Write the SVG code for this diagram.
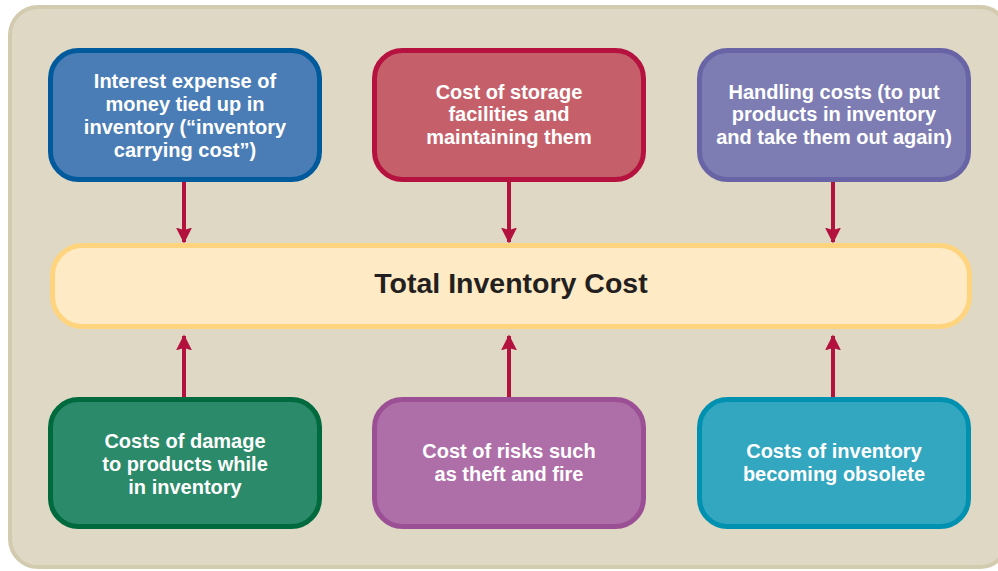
<svg xmlns="http://www.w3.org/2000/svg" width="998" height="571" viewBox="0 0 998 571">
<defs>
<marker id="ah" viewBox="0 0 10 10" refX="9" refY="5" markerWidth="4" markerHeight="4" orient="auto" markerUnits="strokeWidth">
<path d="M0,0 L10,5 L0,10 L1.5,5 Z" fill="#b3123f"/>
</marker>
</defs>
<style>
.t{font-family:"Liberation Sans",Arial,sans-serif;font-weight:bold;font-size:20px;fill:#ffffff;text-anchor:middle}
.c{stroke:#b3123f;stroke-width:4;fill:none;marker-end:url(#ah)}
.b{stroke-width:5}
</style>
<rect x="10" y="7" width="998" height="560" rx="28" fill="#dfd8c5" stroke="#d3cbb0" stroke-width="4"/>
<g id="connectors">
<line class="c" x1="184" y1="181" x2="184" y2="242"/>
<line class="c" x1="509" y1="181" x2="509" y2="242"/>
<line class="c" x1="833" y1="181" x2="833" y2="242"/>
<line class="c" x1="184" y1="397" x2="184" y2="336"/>
<line class="c" x1="509" y1="397" x2="509" y2="336"/>
<line class="c" x1="833" y1="397" x2="833" y2="336"/>
</g>
<g id="total">
<rect x="52.5" y="245.5" width="917" height="81" rx="30" fill="#feeac4" stroke="#fed47e" stroke-width="5"/>
<text x="511" y="293" font-family="Liberation Sans,Arial,sans-serif" font-weight="bold" font-size="28.5" fill="#231f20" text-anchor="middle">Total Inventory Cost</text>
</g>
<g id="interest">
<rect class="b" x="50.5" y="50.5" width="269" height="129" rx="28" fill="#4a7db5" stroke="#005a9c"/>
<text class="t" x="185" y="88">Interest expense of</text>
<text class="t" x="185" y="111">money tied up in</text>
<text class="t" x="185" y="134">inventory (“inventory</text>
<text class="t" x="185" y="157">carrying cost”)</text>
</g>
<g id="storage">
<rect class="b" x="374.5" y="50.5" width="269" height="129" rx="28" fill="#c5606a" stroke="#b5123f"/>
<text class="t" x="509" y="99">Cost of storage</text>
<text class="t" x="509" y="121">facilities and</text>
<text class="t" x="509" y="144">maintaining them</text>
</g>
<g id="handling">
<rect class="b" x="699.5" y="50.5" width="269" height="129" rx="28" fill="#7d7db3" stroke="#6864a6"/>
<text class="t" x="834" y="99">Handling costs (to put</text>
<text class="t" x="834" y="121">products in inventory</text>
<text class="t" x="834" y="144">and take them out again)</text>
</g>
<g id="damage">
<rect class="b" x="50.5" y="399.5" width="269" height="127" rx="28" fill="#2b8a6a" stroke="#006a3f"/>
<text class="t" x="185" y="448">Costs of damage</text>
<text class="t" x="185" y="471">to products while</text>
<text class="t" x="185" y="494">in inventory</text>
</g>
<g id="risks">
<rect class="b" x="374.5" y="399.5" width="269" height="127" rx="28" fill="#ae6ea8" stroke="#9b4f94"/>
<text class="t" x="509" y="458">Cost of risks such</text>
<text class="t" x="509" y="481">as theft and fire</text>
</g>
<g id="obsolete">
<rect class="b" x="699.5" y="399.5" width="269" height="127" rx="28" fill="#34a7c0" stroke="#0091b1"/>
<text class="t" x="834" y="458">Costs of inventory</text>
<text class="t" x="834" y="481">becoming obsolete</text>
</g>
</svg>
